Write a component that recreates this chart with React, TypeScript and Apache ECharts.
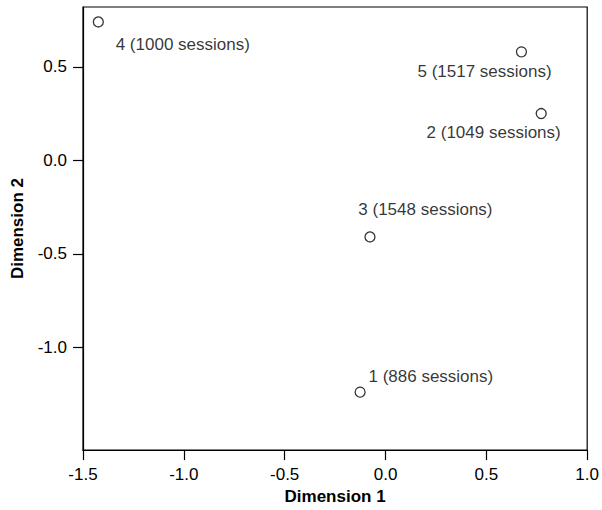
import React, { useEffect, useRef } from "react";
import * as echarts from "echarts";

const clusterIds = [4, 5, 2, 3, 1];
const sessions = [1000, 1517, 1049, 1548, 886];
const dimension1 = [-1.424, 0.674, 0.772, -0.077, -0.126];
const dimension2 = [0.74, 0.58, 0.25, -0.41, -1.24];
const xTicks = [-1.5, -1.0, -0.5, 0.0, 0.5, 1.0];
const yTicks = [-1.0, -0.5, 0.0, 0.5];
const labelOffsets: [number, number][] = [
  [23, 28.4],
  [-98.3, 25],
  [-109, 24.7],
  [-6, -21.7],
  [14, -10.3],
];

const FONT = "Liberation Sans, Arial, sans-serif";

export default function App() {
  const ref = useRef<HTMLDivElement>(null);
  useEffect(() => {
    if (!ref.current) return;
    const chart = echarts.init(ref.current, null, { renderer: "svg" });
    const data = clusterIds.map((id, i) => ({
      value: [dimension1[i], dimension2[i]],
      name: `${id} (${sessions[i]} sessions)`,
      label: {
        show: true,
        position: labelOffsets[i],
        align: "left",
        verticalAlign: "middle",
        formatter: "{b}",
        color: "#000",
        fontSize: 17,
        fontFamily: FONT,
      },
    }));
    chart.setOption({
      animation: false,
      grid: {
        left: 83,
        right: 11.5,
        top: 7,
        bottom: 55,
        show: true,
        borderColor: "#000",
        borderWidth: 1.2,
        backgroundColor: "transparent",
      },
      xAxis: {
        type: "value",
        min: xTicks[0],
        max: xTicks[xTicks.length - 1],
        interval: 0.5,
        name: "Dimension 1",
        nameLocation: "middle",
        nameGap: 33,
        nameTextStyle: { fontSize: 17, fontWeight: "bold", color: "#000", fontFamily: FONT },
        axisLine: { show: true, onZero: false, lineStyle: { color: "#000", width: 1.2 } },
        axisTick: { show: true, length: 10, lineStyle: { color: "#000", width: 1.2 } },
        axisLabel: {
          margin: 16,
          fontSize: 17,
          color: "#000",
          fontFamily: FONT,
          formatter: (v: number) => v.toFixed(1),
        },
        splitLine: { show: false },
      },
      yAxis: {
        type: "value",
        min: -1.55,
        max: 0.82,
        name: "Dimension 2",
        nameLocation: "middle",
        nameGap: 57,
        nameRotate: 90,
        nameTextStyle: { fontSize: 17, fontWeight: "bold", color: "#000", fontFamily: FONT },
        axisLine: { show: true, onZero: false, lineStyle: { color: "#000", width: 1.2 } },
        axisTick: {
          show: true,
          length: 10,
          customValues: yTicks,
          lineStyle: { color: "#000", width: 1.2 },
        },
        axisLabel: {
          margin: 16,
          fontSize: 17,
          color: "#000",
          fontFamily: FONT,
          customValues: yTicks,
          formatter: (v: number) => v.toFixed(1),
        },
        splitLine: { show: false },
      },
      series: [
        {
          type: "scatter",
          symbol: "circle",
          symbolSize: 10,
          itemStyle: { color: "#fff", borderColor: "#000", borderWidth: 1.3 },
          data,
        },
      ],
    });
    return () => chart.dispose();
  }, []);
  return (
    <div
      ref={ref}
      style={{ position: "fixed", left: 0, top: 0, width: 602, height: 510, background: "#fff" }}
    />
  );
}
